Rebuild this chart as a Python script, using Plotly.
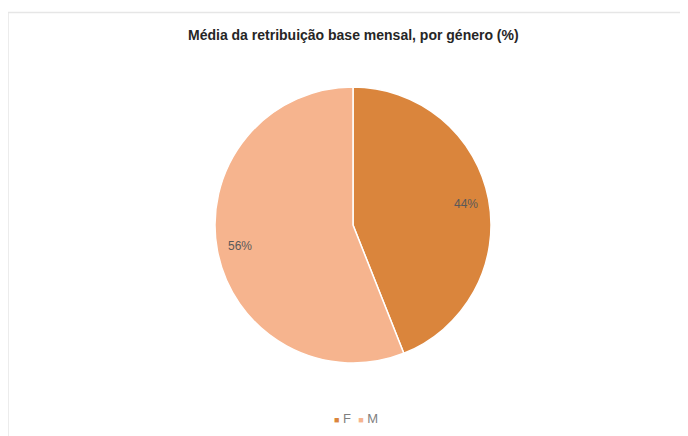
import math
import plotly.graph_objects as go

title = "Média da retribuição base mensal, por género (%)"
labels = ["F", "M"]
values = [44, 56]
colors = ["#DA853C", "#F6B48E"]

OFF = 8  # page body margin
W, H = 688 - OFF, 436 - OFF


def fx(px):
    return (px - OFF) / W


def fy(py):
    return 1 - (py - OFF) / H


# pie placement (pixels in the window)
cx, cy, r = 353, 225, 138

fig = go.Figure()
fig.add_trace(go.Pie(
    labels=labels, values=values, sort=False, direction="clockwise", rotation=0,
    marker=dict(colors=colors, line=dict(color="white", width=1.5)),
    textinfo="none", hoverinfo="label+percent",
    domain=dict(x=[fx(cx - r), fx(cx + r)], y=[fy(cy + r), fy(cy - r)]),
    showlegend=False,
))

total = sum(values)
cum = 0
annotations = []
for lab, v in zip(labels, values):
    mid = (cum + v / 2) / total * 2 * math.pi
    cum += v
    px = cx + 0.83 * r * math.sin(mid)
    py = cy - 0.83 * r * math.cos(mid)
    annotations.append(dict(
        x=fx(px), y=fy(py), xref="paper", yref="paper", xanchor="center", yanchor="middle",
        text=f"{round(v / total * 100)}%", showarrow=False,
        font=dict(family="Liberation Sans, Arial", size=12, color="#595959"),
    ))

annotations.append(dict(
    x=fx(353), y=fy(35), xref="paper", yref="paper", xanchor="center", yanchor="middle",
    text=f"<b>{title}</b>",
    showarrow=False, font=dict(family="Liberation Sans, Arial", size=14, color="#262626"),
))

legend_text = "&nbsp;&nbsp;".join(
    f"<span style='color:{c};font-size:9px'>■</span> {lab}" for lab, c in zip(labels, colors)
)
annotations.append(dict(
    x=fx(356), y=fy(418), xref="paper", yref="paper", xanchor="center", yanchor="middle",
    text=legend_text,
    showarrow=False, font=dict(family="Liberation Sans, Arial", size=13, color="#7F7F7F"),
))

fig.update_layout(
    width=W, height=H, margin=dict(l=0, r=0, t=0, b=0),
    paper_bgcolor="white", plot_bgcolor="white",
    annotations=annotations,
    showlegend=False,
    shapes=[
        dict(type="line", xref="paper", yref="paper", x0=fx(8), x1=1, y0=fy(12.5), y1=fy(12.5),
             line=dict(color="#E6E6E6", width=1.5)),
        dict(type="line", xref="paper", yref="paper", x0=fx(8), x1=fx(8), y0=0, y1=fy(12.5),
             line=dict(color="#E6E6E6", width=1.5)),
    ],
)

fig.write_html("out.html")
